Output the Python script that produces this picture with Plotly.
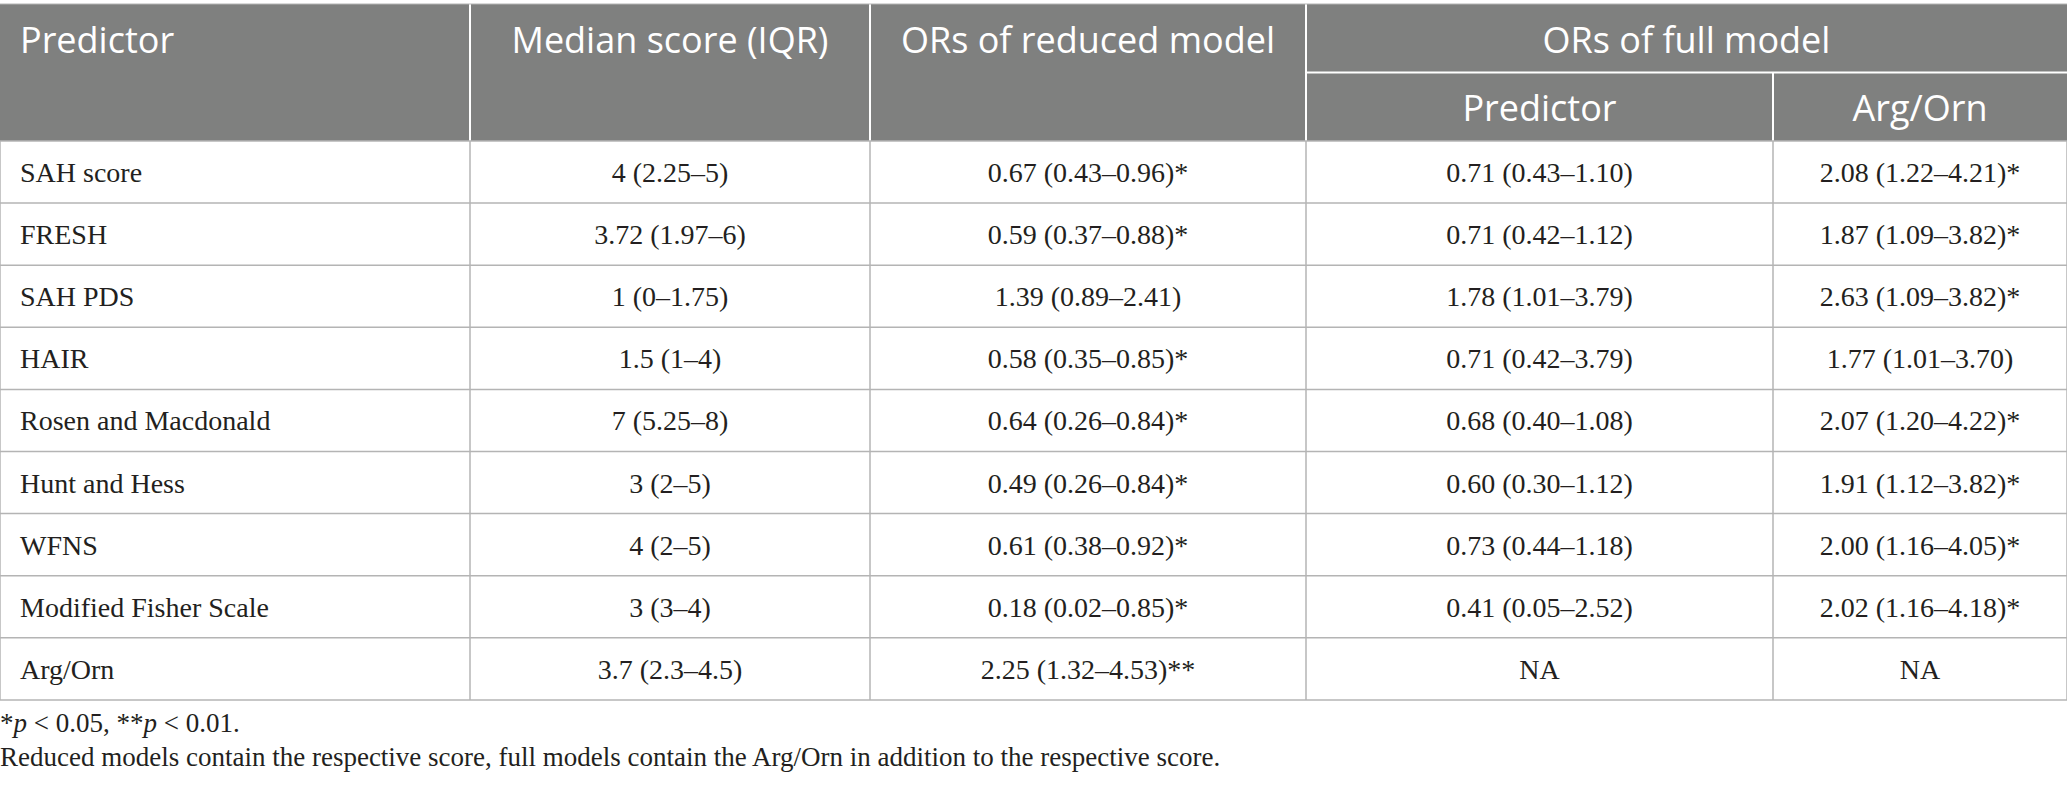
import plotly.graph_objects as go

# table content
predictors = ["SAH score", "FRESH", "SAH PDS", "HAIR", "Rosen and Macdonald",
              "Hunt and Hess", "WFNS", "Modified Fisher Scale", "Arg/Orn"]
median_iqr = ["4 (2.25–5)", "3.72 (1.97–6)", "1 (0–1.75)", "1.5 (1–4)", "7 (5.25–8)",
              "3 (2–5)", "4 (2–5)", "3 (3–4)", "3.7 (2.3–4.5)"]
or_reduced = ["0.67 (0.43–0.96)*", "0.59 (0.37–0.88)*", "1.39 (0.89–2.41)", "0.58 (0.35–0.85)*",
              "0.64 (0.26–0.84)*", "0.49 (0.26–0.84)*", "0.61 (0.38–0.92)*", "0.18 (0.02–0.85)*",
              "2.25 (1.32–4.53)**"]
or_full_pred = ["0.71 (0.43–1.10)", "0.71 (0.42–1.12)", "1.78 (1.01–3.79)", "0.71 (0.42–3.79)",
                "0.68 (0.40–1.08)", "0.60 (0.30–1.12)", "0.73 (0.44–1.18)", "0.41 (0.05–2.52)", "NA"]
or_full_argorn = ["2.08 (1.22–4.21)*", "1.87 (1.09–3.82)*", "2.63 (1.09–3.82)*", "1.77 (1.01–3.70)",
                  "2.07 (1.20–4.22)*", "1.91 (1.12–3.82)*", "2.00 (1.16–4.05)*", "2.02 (1.16–4.18)*", "NA"]

headers = ["Predictor", "Median score (IQR)", "ORs of reduced model", "ORs of full model"]
sub_headers = ["Predictor", "Arg/Orn"]
footnotes = ["*<i>p</i> < 0.05, **<i>p</i> < 0.01.",
             "Reduced models contain the respective score, full models contain the Arg/Orn in addition to the respective score."]

columns = [predictors, median_iqr, or_reduced, or_full_pred, or_full_argorn]

# layout in pixels
W, H = 2067, 789
col_w = [470, 400, 436, 467, 294]
edges = [0]
for w in col_w:
    edges.append(edges[-1] + w)
top = 4
head_h = 68.5
row_h = 62.1
body_top = top + 2 * head_h
n_rows = len(predictors)
body_bot = body_top + n_rows * row_h
pad = 20

HEAD_BG = "#7f807f"
GRID = "#b4b4b4"
TXT = "#231f20"
serif = "Liberation Serif"
sans = "Open Sans"

fig = go.Figure()
shapes = []

# header background
shapes.append(dict(type="rect", x0=edges[0], x1=edges[-1], y0=top, y1=body_top,
                   fillcolor=HEAD_BG, line_width=0, layer="below"))
# header white separators
for x in edges[1:4]:
    shapes.append(dict(type="line", x0=x, x1=x, y0=top, y1=body_top,
                       line=dict(color="white", width=2)))
shapes.append(dict(type="line", x0=edges[4], x1=edges[4], y0=top + head_h, y1=body_top,
                   line=dict(color="white", width=2)))
shapes.append(dict(type="line", x0=edges[3], x1=edges[5], y0=top + head_h, y1=top + head_h,
                   line=dict(color="white", width=2)))

# body grid
for i in range(n_rows + 1):
    y = body_top + i * row_h
    shapes.append(dict(type="line", x0=edges[0], x1=edges[-1], y0=y, y1=y,
                       line=dict(color=GRID, width=1.5)))
for x in edges:
    shapes.append(dict(type="line", x0=x, x1=x, y0=body_top, y1=body_bot,
                       line=dict(color=GRID, width=1.5)))
shapes.append(dict(type="line", x0=edges[0], x1=edges[-1], y0=top, y1=top,
                   line=dict(color=GRID, width=1)))

row_y = [body_top + (i + 0.5) * row_h + 3 for i in range(n_rows)]

# body cells
for j, col in enumerate(columns):
    if j == 0:
        xs = [edges[0] + pad] * n_rows
        pos = "middle right"
    else:
        xs = [(edges[j] + edges[j + 1]) / 2] * n_rows
        pos = "middle center"
    fig.add_trace(go.Scatter(x=xs, y=row_y, text=col, mode="text", textposition=pos,
                             textfont=dict(family=serif, size=28, color=TXT),
                             hoverinfo="skip", showlegend=False))

# header text
hx = [edges[0] + pad, (edges[1] + edges[2]) / 2, (edges[2] + edges[3]) / 2, (edges[3] + edges[5]) / 2]
hpos = ["middle right", "middle center", "middle center", "middle center"]
for x, t, p in zip(hx, headers, hpos):
    fig.add_trace(go.Scatter(x=[x], y=[top + head_h / 2 + 6], text=[t], mode="text", textposition=p,
                             textfont=dict(family=sans, size=36, color="white"),
                             hoverinfo="skip", showlegend=False))
fig.add_trace(go.Scatter(x=[(edges[3] + edges[4]) / 2, (edges[4] + edges[5]) / 2],
                         y=[top + 1.5 * head_h + 5] * 2, text=sub_headers, mode="text",
                         textposition="middle center",
                         textfont=dict(family=sans, size=36, color="white"),
                         hoverinfo="skip", showlegend=False))

# footnotes
fig.add_trace(go.Scatter(x=[edges[0], edges[0]], y=[body_bot + 25, body_bot + 59], text=footnotes,
                         mode="text", textposition="middle right",
                         textfont=dict(family=serif, size=27, color=TXT),
                         hoverinfo="skip", showlegend=False))

fig.update_layout(
    width=W, height=H,
    margin=dict(l=0, r=0, t=0, b=0),
    paper_bgcolor="white", plot_bgcolor="white",
    xaxis=dict(range=[0, W], visible=False, fixedrange=True),
    yaxis=dict(range=[H, 0], visible=False, fixedrange=True),
    shapes=shapes,
)

fig.write_html("out.html", config={"displayModeBar": False},
               post_script="document.body.style.margin='0';")
